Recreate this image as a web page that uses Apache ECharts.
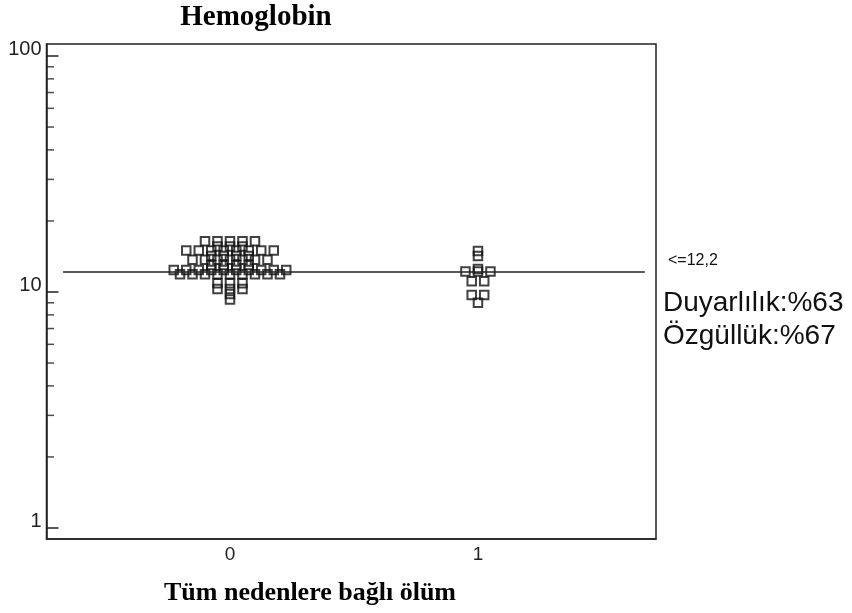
<!DOCTYPE html>
<html><head><meta charset="utf-8">
<script src="https://cdn.jsdelivr.net/npm/echarts@6/dist/echarts.min.js"></script>
<style>html,body{margin:0;padding:0;background:#fff}#c{width:852px;height:613px}</style>
</head><body><div id="c"></div>
<script>
// ---- data ----
const groupLabels = ['0', '1'];
const g0Values = [16.4, 15.6, 15.0, 14.2, 13.7, 13.0, 12.4, 11.9, 10.9, 10.3, 9.8, 9.3];
const g0Counts = [5, 3, 8, 4, 7, 4, 10, 9, 3, 3, 1, 1];
const g1Values = [14.9, 14.2, 12.5, 12.2, 11.1, 9.7, 9.0];
const g1Counts = [1, 1, 1, 3, 2, 2, 1];
const cutoff = 12.2;
const yTickValues = [1, 10, 100];
const minorTickValues = [2, 3, 4, 5, 6, 7, 8, 9, 20, 30, 40, 50, 60, 70, 80, 90];
const titleText = 'Hemoglobin';
const xAxisTitle = 'Tüm nedenlere bağlı ölüm';
const cutoffLabel = '<=12,2';
const sensText = 'Duyarlılık:%63';
const specText = 'Özgüllük:%67';

// ---- layout ----
const X_MIN = -0.74, X_MAX = 1.718;
const Y_MIN = 0.898, Y_MAX = 112.4;
const STEP = 0.0504;
const LINE_FROM = -0.673, LINE_TO = 1.673;

function build(g, vals, counts) {
  const pts = [];
  vals.forEach((v, k) => {
    const n = counts[k];
    for (let i = 0; i < n; i++) pts.push([g + (i - (n - 1) / 2) * STEP, v]);
  });
  return pts;
}

const chart = echarts.init(document.getElementById('c'), null, {renderer: 'canvas'});
const serifBold = {fontFamily: '"Liberation Serif", "Times New Roman", serif', fontWeight: 'bold', fill: '#000'};
const sans = '"Liberation Sans", Arial, sans-serif';
const squareStyle = {color: 'rgba(0,0,0,0)', borderColor: '#111', borderWidth: 2};

chart.setOption({
  animation: false,
  backgroundColor: '#fff',
  grid: {left: 46.5, right: 196, top: 44, bottom: 74, show: true, borderColor: '#222', borderWidth: 1.5, containLabel: false},
  xAxis: {
    type: 'value', min: X_MIN, max: X_MAX,
    splitLine: {show: false},
    axisLine: {show: true, onZero: false, lineStyle: {color: '#222', width: 1.5}},
    axisTick: {show: false},
    axisLabel: {
      customValues: groupLabels.map(Number),
      formatter: v => groupLabels[Math.round(v)] ?? '',
      fontSize: 19, color: '#222', fontFamily: sans, margin: 6
    }
  },
  yAxis: {
    type: 'log', logBase: 10, min: Y_MIN, max: Y_MAX,
    splitLine: {show: false},
    axisLine: {show: true, onZero: false, lineStyle: {color: '#222', width: 1.5}},
    axisTick: {show: true, inside: true, length: 12, lineStyle: {color: '#222', width: 1.5}},
    axisLabel: {
      showMinLabel: false, showMaxLabel: false,
      formatter: v => (yTickValues.some(t => Math.abs(t - v) < 1e-6) ? String(v) : ''),
      fontSize: 20, color: '#222', fontFamily: sans, margin: 5,
      verticalAlign: 'bottom', lineHeight: 12
    }
  },
  series: [
    {
      type: 'scatter', name: 'minor', data: minorTickValues.map(v => [X_MIN, v]),
      symbol: 'rect', symbolSize: [7, 1.5], symbolOffset: [4, 0], clip: false,
      itemStyle: {color: '#222'}, silent: true
    },
    {
      type: 'scatter', name: '0', data: build(0, g0Values, g0Counts),
      symbol: 'rect', symbolSize: 8.5, itemStyle: squareStyle,
      markLine: {
        silent: true, symbol: 'none', label: {show: false},
        lineStyle: {color: '#222', width: 1.5, type: 'solid'},
        data: [[{coord: [LINE_FROM, cutoff]}, {coord: [LINE_TO, cutoff]}]]
      }
    },
    {
      type: 'scatter', name: '1', data: build(1, g1Values, g1Counts),
      symbol: 'rect', symbolSize: 8.5, itemStyle: squareStyle
    }
  ],
  graphic: [
    {type: 'text', style: Object.assign({text: titleText, x: 256, y: 18, textAlign: 'center', textVerticalAlign: 'middle', fontSize: 29}, serifBold)},
    {type: 'text', style: Object.assign({text: xAxisTitle, x: 310, y: 593, textAlign: 'center', textVerticalAlign: 'middle', fontSize: 26}, serifBold)},
    {type: 'text', style: {text: cutoffLabel, x: 668, y: 261, textAlign: 'left', textVerticalAlign: 'middle', fontSize: 16, fontFamily: sans, fill: '#111'}},
    {type: 'text', style: {text: sensText, x: 663, y: 303, textAlign: 'left', textVerticalAlign: 'middle', fontSize: 28, fontFamily: sans, fill: '#111'}},
    {type: 'text', style: {text: specText, x: 663, y: 336, textAlign: 'left', textVerticalAlign: 'middle', fontSize: 28, fontFamily: sans, fill: '#111'}}
  ]
});
</script></body></html>
